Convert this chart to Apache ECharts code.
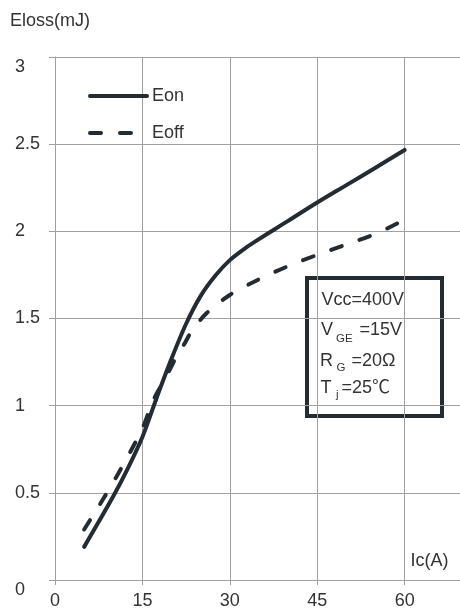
<!DOCTYPE html>
<html>
<head>
<meta charset="utf-8">
<script src="https://cdn.jsdelivr.net/npm/echarts@6/dist/echarts.min.js"></script>
<style>
  html, body { margin: 0; padding: 0; background: #fff; }
  #chart { width: 460px; height: 613px; }
</style>
</head>
<body>
<div id="chart"></div>
<script>
// Switching energy loss vs collector current
const eonCurrent = [5, 10, 12.5, 15, 17.5, 20, 22.5, 25, 27.5, 30, 32.5, 35, 37.5, 40, 45, 50, 55, 60];
const eonLoss    = [0.19, 0.48, 0.64, 0.82, 1.05, 1.27, 1.47, 1.63, 1.745, 1.835, 1.9, 1.955, 2.008, 2.06, 2.165, 2.265, 2.365, 2.467];

const eoffCurrent = [5, 8, 10.5, 13, 15, 17, 19, 20.5, 22.3, 23.5, 26, 30, 35, 40, 45, 50, 55, 59];
const eoffLoss    = [0.29, 0.45, 0.59, 0.74, 0.87, 1.04, 1.16, 1.26, 1.36, 1.43, 1.53, 1.635, 1.725, 1.8, 1.865, 1.925, 1.985, 2.05];

const xTicks = [0, 15, 30, 45, 60];
const yTicks = [0, 0.5, 1, 1.5, 2, 2.5, 3];

const FONT = '"Liberation Sans", Arial, "Noto Sans CJK SC", sans-serif';
const INK = '#232b33';
const TEXT = '#333';
const GRID = '#a0a0a0';

const pairs = (xs, ys) => xs.map((x, i) => [x, ys[i]]);

const chart = echarts.init(document.getElementById('chart'), null, { renderer: 'canvas' });

chart.setOption({
  animation: false,
  backgroundColor: '#fff',
  grid: { left: 55, top: 57, right: 0, bottom: 33, containLabel: false, outerBoundsMode: 'none' },
  xAxis: {
    type: 'value',
    min: 0, max: 69.5, interval: 15,
    axisLine: { show: true, lineStyle: { color: GRID, width: 1 } },
    axisTick: { show: true, length: 5, lineStyle: { color: GRID } },
    splitLine: { show: true, lineStyle: { color: GRID, width: 1 } },
    axisLabel: {
      margin: 12,
      showMaxLabel: false,
      fontSize: 18, color: TEXT, fontFamily: FONT,
      formatter: v => (xTicks.indexOf(v) >= 0 ? String(v) : '')
    }
  },
  yAxis: {
    type: 'value',
    min: 0, max: 3, interval: 0.5,
    axisLine: { show: true, lineStyle: { color: GRID, width: 1 } },
    axisTick: { show: true, length: 6, lineStyle: { color: GRID } },
    splitLine: { show: true, lineStyle: { color: GRID, width: 1 } },
    axisLabel: {
      margin: 40, align: 'left',
      fontSize: 18, color: TEXT, fontFamily: FONT,
      formatter: v => {
        if (yTicks.indexOf(v) < 0) return '';
        return (v === 0 || v === 3) ? '{edge|' + v + '}' : String(v);
      },
      rich: {
        edge: { fontSize: 18, color: TEXT, fontFamily: FONT, padding: [20, 0, 0, 0] }
      }
    }
  },
  legend: {
    orient: 'vertical',
    left: 88, top: 87, padding: 0,
    itemWidth: 57, itemHeight: 14, itemGap: 19,
    itemStyle: { opacity: 0 },
    lineStyle: { width: 4, cap: 'round' },
    textStyle: { fontSize: 18, color: TEXT, fontFamily: FONT },
    data: ['Eon', 'Eoff']
  },
  series: [
    {
      name: 'Eon', type: 'line', symbol: 'none', smooth: 0.3,
      lineStyle: { color: INK, width: 4, cap: 'round', join: 'round' },
      itemStyle: { color: INK },
      data: pairs(eonCurrent, eonLoss)
    },
    {
      name: 'Eoff', type: 'line', symbol: 'none', smooth: 0.3,
      lineStyle: { color: INK, width: 4, cap: 'round', join: 'round', type: [11, 19] },
      itemStyle: { color: INK },
      data: pairs(eoffCurrent, eoffLoss)
    }
  ],
  graphic: [
    { type: 'text', x: 10, y: 21, style: { text: 'Eloss(mJ)', fontSize: 18, fontFamily: FONT, fill: TEXT, verticalAlign: 'middle' } },
    { type: 'text', x: 410.5, y: 561, style: { text: 'Ic(A)', fontSize: 18, fontFamily: FONT, fill: TEXT, verticalAlign: 'middle' } },
    {
      type: 'group', z: 100,
      children: [
        { type: 'rect', shape: { x: 307, y: 278, width: 135, height: 138 }, style: { fill: '#fff', stroke: INK, lineWidth: 4 } },
        { type: 'text', x: 321.5, y: 300, style: { text: 'Vcc=400V', fontSize: 18, fontFamily: FONT, fill: TEXT, verticalAlign: 'middle' } },

        { type: 'text', x: 321, y: 330, style: { text: 'V', fontSize: 18, fontFamily: FONT, fill: TEXT, verticalAlign: 'middle' } },
        { type: 'text', x: 336, y: 338.5, style: { text: 'GE', fontSize: 11.5, fontFamily: FONT, fill: TEXT, verticalAlign: 'middle' } },
        { type: 'text', x: 359.5, y: 330, style: { text: '=15V', fontSize: 18, fontFamily: FONT, fill: TEXT, verticalAlign: 'middle' } },

        { type: 'text', x: 320, y: 361, style: { text: 'R', fontSize: 18, fontFamily: FONT, fill: TEXT, verticalAlign: 'middle' } },
        { type: 'text', x: 336.5, y: 367.5, style: { text: 'G', fontSize: 11.5, fontFamily: FONT, fill: TEXT, verticalAlign: 'middle' } },
        { type: 'text', x: 351.5, y: 361, style: { text: '=20Ω', fontSize: 18, fontFamily: FONT, fill: TEXT, verticalAlign: 'middle' } },

        { type: 'text', x: 320.5, y: 388.5, style: { text: 'T', fontSize: 18, fontFamily: FONT, fill: TEXT, verticalAlign: 'middle' } },
        { type: 'text', x: 336, y: 395, style: { text: 'j', fontSize: 11.5, fontFamily: FONT, fill: TEXT, verticalAlign: 'middle' } },
        { type: 'text', x: 341.5, y: 388.5, style: { text: '=25℃', fontSize: 18, fontFamily: FONT, fill: TEXT, verticalAlign: 'middle' } }
      ]
    }
  ]
});
</script>
</body>
</html>
